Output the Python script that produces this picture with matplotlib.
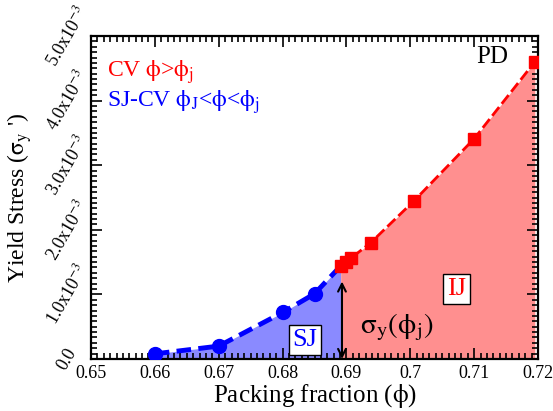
import matplotlib
matplotlib.use("Agg")
import matplotlib.pyplot as plt
from matplotlib.ticker import MultipleLocator, FixedLocator

plt.rcParams['font.family'] = ['Liberation Serif', 'DejaVu Serif']
plt.rcParams['mathtext.fontset'] = 'stix'
plt.rcParams['mathtext.default'] = 'rm'

# shear-jamming (SJ) branch: packing fraction vs yield stress
sj_phi = [0.66, 0.67, 0.68, 0.685]
sj_sigma = [0.08e-3, 0.20e-3, 0.72e-3, 1.01e-3]

# isotropic-jamming (IJ) branch
ij_phi = [0.6891, 0.6899, 0.6907, 0.6938, 0.7006, 0.7100, 0.7195]
ij_sigma = [1.44e-3, 1.50e-3, 1.56e-3, 1.80e-3, 2.45e-3, 3.41e-3, 4.60e-3]

x_ticks = [0.65, 0.66, 0.67, 0.68, 0.69, 0.70, 0.71, 0.72]
x_labels = ['0.65', '0.66', '0.67', '0.68', '0.69', '0.7', '0.71', '0.72']
y_ticks = [0.0, 1e-3, 2e-3, 3e-3, 4e-3, 5e-3]
y_labels = ['0.0', '1.0x10$^{-3}$', '2.0x10$^{-3}$', '3.0x10$^{-3}$',
            '4.0x10$^{-3}$', '5.0x10$^{-3}$']

fig = plt.figure(figsize=(5.53, 4.11), dpi=100)
ax = fig.add_axes([0.1646, 0.1265, 0.8083, 0.7859])

blue = '#0000ff'
red = '#ff0000'

# shaded regions under each branch
sj_x = sj_phi + [ij_phi[0]]
sj_y = sj_sigma + [ij_sigma[0]]
ax.fill_between(sj_x, 0, sj_y, color='#8a8aff', lw=0, zorder=1)
ax.fill_between(ij_phi, 0, ij_sigma, color='#ff8f8f', lw=0, zorder=1)

# branches
ax.plot(sj_x, sj_y, color=blue, lw=3.5, ls=(0, (3.0, 1.5)), zorder=3)
ax.plot(sj_phi, sj_sigma, 'o', color=blue, ms=10, zorder=4)
ax.plot(ij_phi, ij_sigma, color=red, lw=2.0, ls=(0, (4, 1.5)), zorder=3)
ax.plot(ij_phi, ij_sigma, 's', color=red, ms=8.5, zorder=4)

# yield stress at jamming
ax.annotate('', xy=(0.6893, 1.20e-3), xytext=(0.6893, 0.0),
            arrowprops=dict(arrowstyle='<->', color='black', lw=1.5,
                            mutation_scale=14, shrinkA=0, shrinkB=0),
            zorder=5)
ax.text(0.6979, 0.50e-3, r'$\sigma_y(\phi_j)$', fontsize=21, ha='center',
        va='center', color='black', zorder=6)

box = dict(boxstyle='square,pad=0.15', facecolor='white', edgecolor='black', lw=1)
ax.text(0.6835, 0.29e-3, 'SJ', color=blue, fontsize=19, ha='center',
        va='center', bbox=box, zorder=6)
ax.text(0.7073, 1.08e-3, 'IJ', color=red, fontsize=19, ha='center',
        va='center', bbox=box, zorder=6)
ax.text(0.7129, 4.67e-3, 'PD', color='black', fontsize=18, ha='center',
        va='center', zorder=6)

ax.text(0.6525, 4.44e-3, r'CV $\phi$>$\phi_j$', color=red, fontsize=17,
        ha='left', va='center', zorder=6)
ax.text(0.6525, 3.97e-3, r'SJ-CV $\phi_J$<$\phi$<$\phi_j$', color=blue,
        fontsize=17, ha='left', va='center', zorder=6)

ax.set_xlim(0.65, 0.72)
ax.set_ylim(0.0, 5e-3)
ax.xaxis.set_major_locator(FixedLocator(x_ticks))
ax.set_xticklabels(x_labels, fontsize=13)
ax.xaxis.set_minor_locator(MultipleLocator(0.001))
ax.yaxis.set_major_locator(FixedLocator(y_ticks))
ax.set_yticklabels(y_labels, fontsize=13)
ax.yaxis.set_minor_locator(MultipleLocator(1e-3 / 12))

ax.tick_params(which='both', direction='in', top=True, right=True, width=1.2)
ax.tick_params(which='major', length=8)
ax.tick_params(which='minor', length=4)
ax.tick_params(axis='x', pad=4)
for lab in ax.get_yticklabels():
    lab.set_rotation(60)
    lab.set_rotation_mode('anchor')
    lab.set_ha('center')
    lab.set_va('center')
ax.tick_params(axis='y', pad=17)

for sp in ax.spines.values():
    sp.set_linewidth(1.6)

ax.set_xlabel(r'Packing fraction ($\phi$)', fontsize=18, labelpad=0)
ax.set_ylabel("Yield Stress ($\\sigma_y$ ')", fontsize=17)
ax.yaxis.set_label_coords(-0.128, 0.5)

fig.savefig('out.png', dpi=100)
